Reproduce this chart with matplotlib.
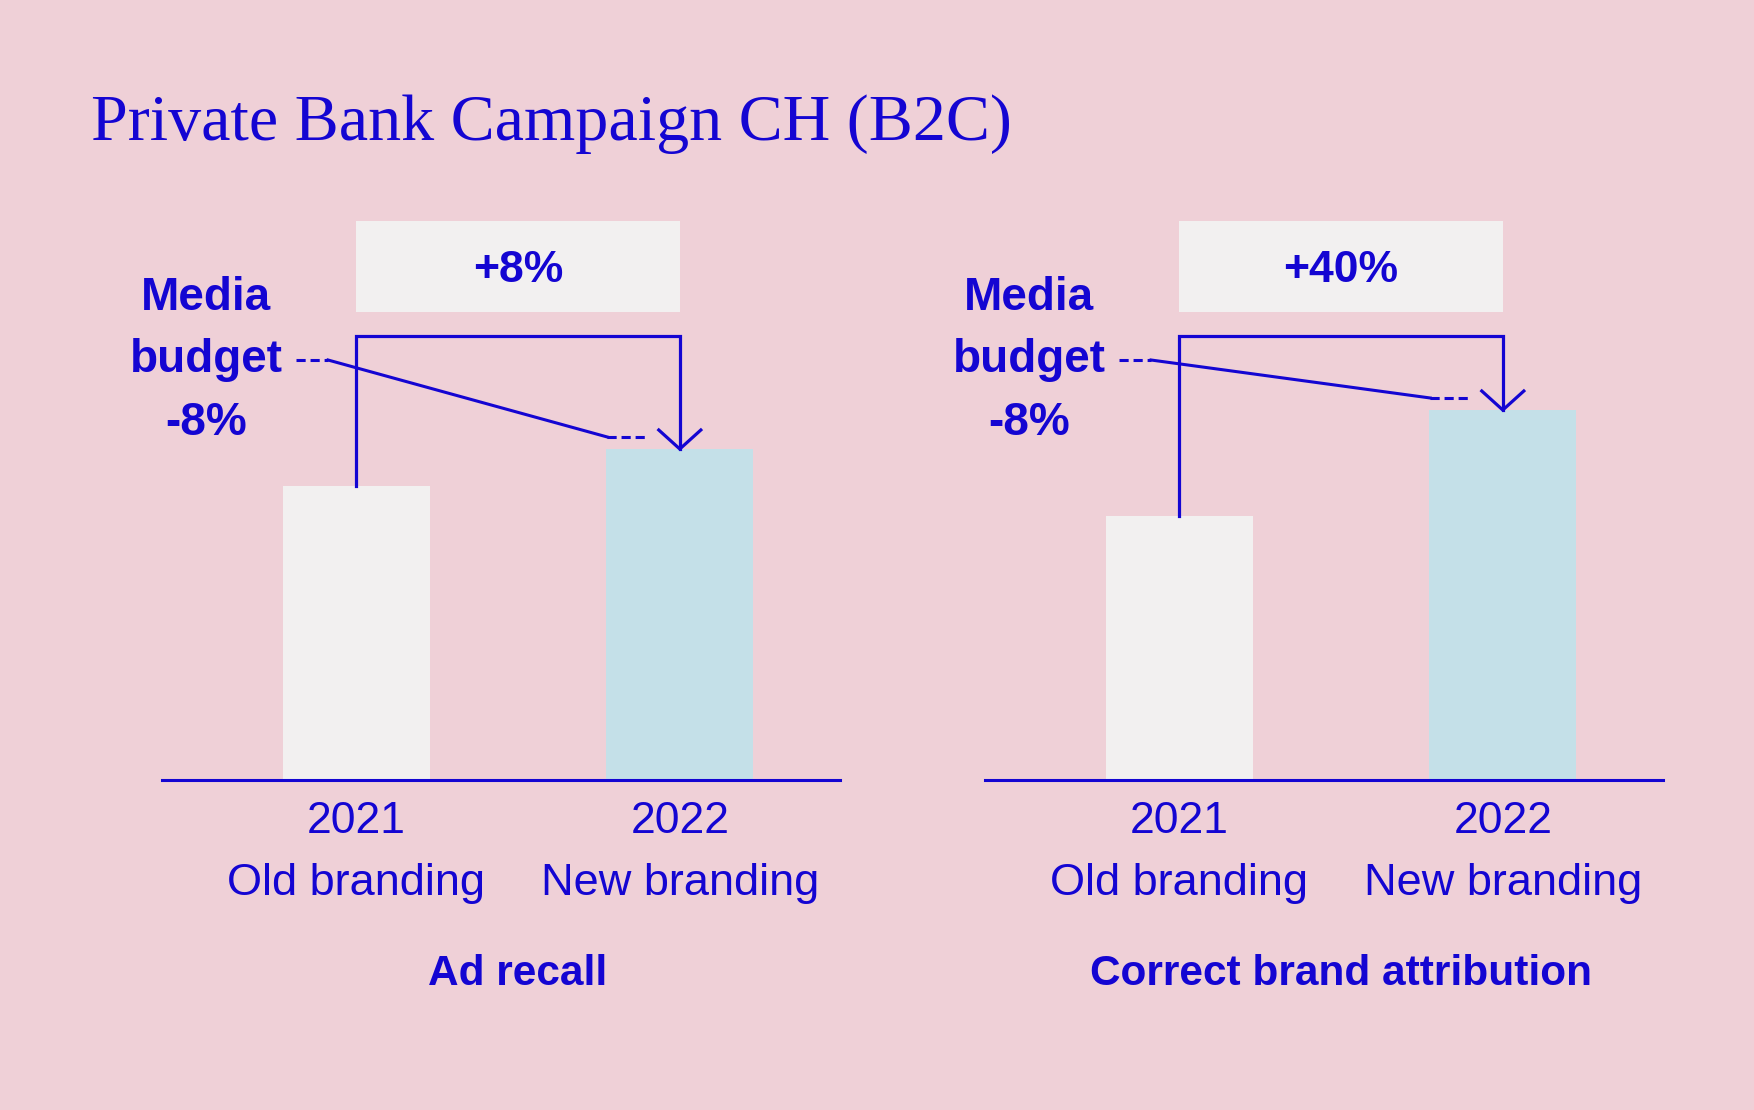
import matplotlib.pyplot as plt
import numpy as np

# colours
BG = '#efd0d7'
BLUE = '#1405d2'
OLD_C = '#f2f0f0'
NEW_C = '#c4e0e8'

title = 'Private Bank Campaign CH (B2C)'
years = ['2021', '2022']
brandings = ['Old branding', 'New branding']
panel_names = ['Ad recall', 'Correct brand attribution']
changes = ['+8%', '+40%']
budget_text = ['Media', 'budget', '-8%']

# bar heights (arbitrary index units)
ad_recall = [29.4, 33.1]
brand_attr = [26.4, 37.0]
values = [ad_recall, brand_attr]

plt.rcParams['font.family'] = ['Liberation Sans', 'DejaVu Sans']

fig = plt.figure(figsize=(17.54, 11.10), dpi=100, facecolor=BG)
W, H = 1754, 1110

def add_panel(left_px, vals, name, change):
    ax = fig.add_axes([left_px / W, (H - 780) / H, 678 / W, 580 / H])
    ax.set_facecolor(BG)
    ax.set_xlim(-0.6, 1.495)
    ax.set_ylim(0, 58)
    ax.axis('off')
    x = np.arange(2)
    ax.bar(x, vals, width=0.455, color=[OLD_C, NEW_C], zorder=1)
    ax.axhline(0, color=BLUE, lw=2.2, zorder=3, clip_on=False)

    # labels under bars
    for i in range(2):
        ax.text(x[i], -5.3, years[i], ha='center', va='baseline',
                fontsize=32, color=BLUE, clip_on=False)
        ax.text(x[i], -11.5, brandings[i], ha='center', va='baseline',
                fontsize=32.5, color=BLUE, clip_on=False)
    ax.text(0.5, -20.5, name, ha='center', va='baseline', fontsize=30.5,
            fontweight='bold', color=BLUE, clip_on=False)

    # change box
    top = 44.4
    ax.fill_between([x[0], x[1]], 46.8, 55.9, color=OLD_C, lw=0, zorder=1)
    ax.text(0.5, 49.8, change, ha='center', va='baseline', fontsize=32,
            fontweight='bold', color=BLUE)

    # bracket + arrow
    ax.plot([x[0], x[0], x[1], x[1]], [vals[0], top, top, vals[1]],
            color=BLUE, lw=2.3, solid_joinstyle='miter', zorder=4)
    ax.plot([x[1] - 0.065, x[1], x[1] + 0.065],
            [vals[1] + 1.9, vals[1], vals[1] + 1.9],
            color=BLUE, lw=2.3, zorder=4)

    # media budget line
    start_y = 42.0
    end_y = vals[1] + 1.2
    ax.plot([-0.186, -0.087], [start_y, start_y], color=BLUE, lw=2.2,
            linestyle=(0, (3, 1.6)), zorder=4)
    ax.plot([-0.087, 0.776], [start_y, end_y], color=BLUE, lw=2.2, zorder=4)
    ax.plot([0.776, 0.895], [end_y, end_y], color=BLUE, lw=2.2,
            linestyle=(0, (3, 1.6)), zorder=4)

    for txt, yy in zip(budget_text, [47.0, 40.8, 34.5]):
        ax.text(-0.463, yy, txt, ha='center', va='baseline', fontsize=33,
                fontweight='bold', color=BLUE, clip_on=False)
    return ax

add_panel(162, values[0], panel_names[0], changes[0])
add_panel(985, values[1], panel_names[1], changes[1])

fig.text(91 / W, 1 - 140 / H, title, ha='left', va='baseline',
         fontsize=47.5, color=BLUE, family=['Liberation Serif', 'DejaVu Serif'])

fig.savefig('out.png', dpi=100, facecolor=BG)
